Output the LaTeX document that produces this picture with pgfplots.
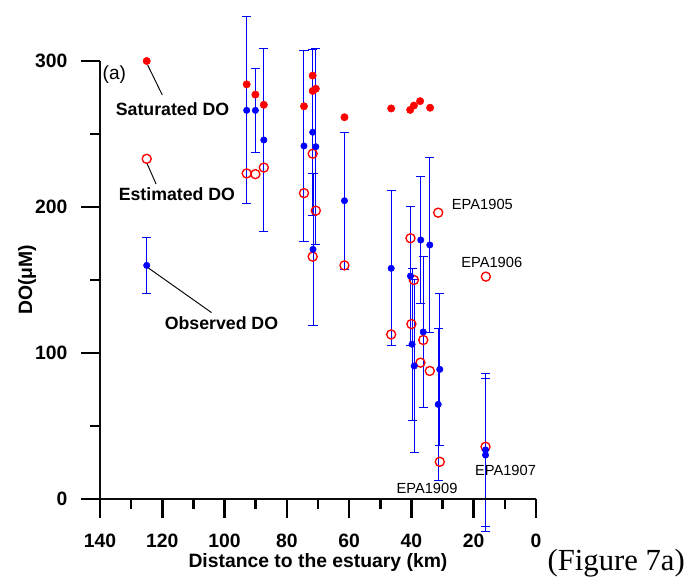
\documentclass[border=0pt]{standalone}
\usepackage{fontspec}
\setmainfont{Liberation Sans}
\newfontfamily\timesfont{Liberation Serif}
\usepackage{pgfplots}
\pgfplotsset{compat=1.18}
\definecolor{axisink}{RGB}{12,12,12}

% saturated DO (filled red), first row is the in-plot key sample
\pgfplotstableread{
d v
125 300
92.9 284
90.1 277
87.4 270
74.5 269
71.7 290
71.7 279.5
70.7 281
61.5 261.5
46.5 267.5
40.4 266.5
39.2 269.5
37.2 272.5
34.0 268
}\satdata
% estimated DO (open red)
\pgfplotstableread{
d v
125 233
92.9 223
90.1 222.5
87.4 227
74.5 209.5
71.7 236.5
70.7 197.5
71.7 166
61.5 160
46.5 112.7
40.3 178.6
39.2 150
40.0 119.8
36.2 108.9
37.1 93.4
34.1 87.7
31.4 196.1
16.1 152.3
30.9 25.5
16.2 35.8
}\estdata
% observed DO (blue) with error
\pgfplotstableread{
d v e
125 160 19.3
92.9 266.2 64
90.1 266.2 28.6
87.4 245.9 62.4
74.5 241.8 65.7
71.7 251.2 57
70.7 241.3 67
71.6 171 52
61.5 204.3 47
46.5 158 53
40.3 152.7 47.5
39.8 106 52
39.1 91.1 59
37.0 177.4 43.3
36.2 114.4 52
34.1 174 59.7
30.9 88.8 52
31.4 64.8 52
16.2 33.6 52.5
16.2 30.1 52.5
}\obsdata

\begin{document}
\begin{tikzpicture}
\path[use as bounding box] (-75pt,-59.25pt) rectangle (440.25pt,374.25pt);
\begin{axis}[
  at={(0,0)}, anchor=south west,
  scale only axis, width=327pt, height=328.5pt,
  x dir=reverse, xmin=0, xmax=140, ymin=0, ymax=300,
  axis x line*=bottom, axis y line*=left,
  axis line style={axisink, line width=2.2pt, -},
  xtick={0,20,...,140}, minor xtick={10,30,...,130},
  ytick={0,100,200,300}, minor ytick={50,150,250},
  tick align=outside,
  major tick length=14pt, minor tick length=7.5pt,
  every tick/.append style={black, line width=2pt},
  every minor tick/.append style={black, line width=2pt},
  ticklabel style={font=\fontsize{14.5}{16}\selectfont\bfseries},
  xticklabel style={yshift=-8.5pt},
  yticklabel style={xshift=-7pt},
  /pgf/number format/assume math mode=true,
  xlabel={Distance to the estuary (km)},
  ylabel={DO(μM)},
  label style={font=\fontsize{14.5}{16}\selectfont\bfseries},
  xlabel style={at={(axis description cs:0.5,-0.146)}, anchor=center},
  ylabel style={at={(axis description cs:-0.167,0.5)}, anchor=center},
  clip=false,
]
\addplot[only marks, mark=*, mark size=2.75pt, color=red] table[x=d, y=v] {\satdata};
\addplot[only marks, mark=o, mark size=3.4pt, color=red, mark options={line width=1pt}] table[x=d, y=v] {\estdata};
\addplot[only marks, mark=*, mark size=2.4pt, color=blue,
  error bars/.cd, y dir=both, y explicit,
  error bar style={blue, line width=0.75pt},
  error mark options={rotate=90, mark size=3.4pt, blue, line width=0.75pt}]
  table[x=d, y=v, y error=e] {\obsdata};

% key labels with leader lines
\draw[black, line width=0.7pt] (axis cs:124.7,297.3) -- (axis cs:120,276.7);
\draw[black, line width=0.7pt] (axis cs:125,230.3) -- (axis cs:122,215.8);
\draw[black, line width=0.7pt] (axis cs:124.7,158.6) -- (axis cs:104.2,127.7);
\node[font=\fontsize{13.3}{15}\selectfont\bfseries] at (axis cs:116.7,267.1) {Saturated DO};
\node[font=\fontsize{13.3}{15}\selectfont\bfseries] at (axis cs:115.3,208.6) {Estimated DO};
\node[font=\fontsize{13.3}{15}\selectfont\bfseries] at (axis cs:101,120.5) {Observed DO};
\node[font=\fontsize{14.3}{16}\selectfont] at (axis cs:135.4,290.4) {(a)};

\node[anchor=west, font=\fontsize{11}{13}\selectfont] at (axis cs:28.5,201.8) {EPA1905};
\node[anchor=west, font=\fontsize{11}{13}\selectfont] at (axis cs:25.5,162.3) {EPA1906};
\node[font=\fontsize{11}{13}\selectfont] at (axis cs:9.8,19.4) {EPA1907};
\node[font=\fontsize{11}{13}\selectfont] at (axis cs:35.0,7.3) {EPA1909};
\end{axis}
% axis lines
\draw[axisink, line width=2.2pt] (0pt,0pt) -- (327pt,0pt);
\draw[axisink, line width=2.2pt] (0pt,0pt) -- (0pt,328.5pt);
\node[anchor=west, font=\timesfont\fontsize{23}{26}\selectfont] at (332.25pt,-48pt) {(Figure 7a)};
\end{tikzpicture}
\end{document}
